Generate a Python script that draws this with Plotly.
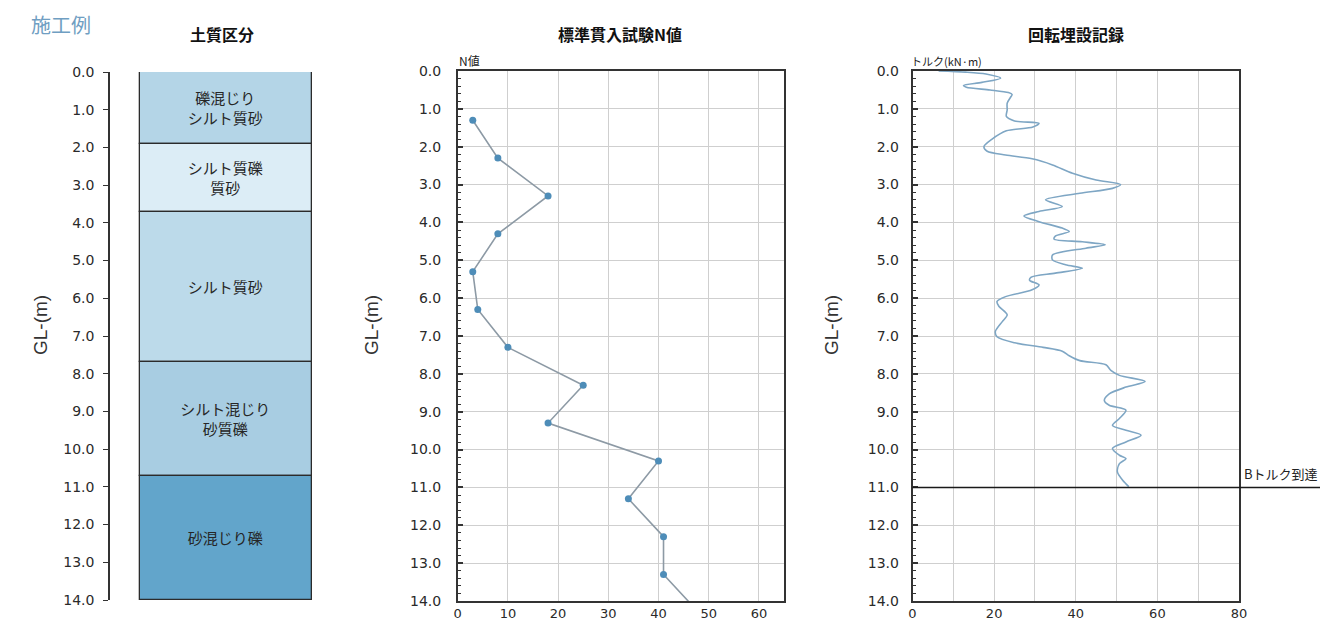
import plotly.graph_objects as go

W, H = 1337, 621
OFF = 8                      # page body margin
FW, FH = W - OFF, H - OFF    # figure size

# ---------------- data ----------------
soil_names = ["礫混じり<br>シルト質砂", "シルト質礫<br>質砂", "シルト質砂", "シルト混じり<br>砂質礫", "砂混じり礫"]
soil_top = [0.0, 1.9, 3.7, 7.7, 10.7]
soil_bottom = [1.9, 3.7, 7.7, 10.7, 14.0]
soil_colors = ["#b4d5e7", "#dcedf6", "#bcdaea", "#a8cde2", "#62a5cb"]

n_depth = [1.3, 2.3, 3.3, 4.3, 5.3, 6.3, 7.3, 8.3, 9.3, 10.3, 11.3, 12.3, 13.3, 14.3]
n_value = [3, 8, 18, 8, 3, 4, 10, 25, 18, 40, 34, 41, 41, 48]

torque_depth = [0.00, 0.03, 0.08, 0.19, 0.30, 0.38, 0.43, 0.50, 0.57, 0.62, 0.70, 0.85,
                1.03, 1.20, 1.32, 1.38, 1.48, 1.58, 1.80, 2.00, 2.12, 2.22, 2.32, 2.48,
                2.70, 2.88, 3.00, 3.10, 3.23, 3.40, 3.58, 3.71, 3.83, 3.98, 4.15, 4.24,
                4.36, 4.44, 4.51, 4.59, 4.68, 4.86, 4.99, 5.12, 5.21, 5.34, 5.45, 5.53,
                5.65, 5.78, 5.96, 6.09, 6.22, 6.44, 6.62, 6.88, 7.02, 7.18, 7.30, 7.40,
                7.52, 7.65, 7.76, 7.91, 8.04, 8.20, 8.35, 8.53, 8.70, 8.83, 8.96, 9.18,
                9.36, 9.49, 9.62, 9.80, 9.97, 10.15, 10.24, 10.37, 10.59, 10.81, 10.98]
torque_value = [6.4, 13, 18, 21.6, 17, 12.5, 13.2, 19, 23.5, 24.4, 24.0, 23.2,
                23.2, 23.0, 25, 31, 29.5, 23, 19.5, 17.5, 18.3, 22.8, 29.3, 34.3,
                39.2, 45, 51, 49, 41, 32.6, 36.7, 31, 27.3, 31, 36.7, 38.4,
                35, 34.7, 41.6, 47.2, 42.5, 34.3, 34.3, 37.5, 41.6, 35, 29, 28.7,
                31, 29.3, 22.8, 20.7, 21.2, 23.2, 22, 20.3, 20.7, 25, 32, 36.7,
                38.4, 41, 47.4, 48.6, 50.7, 57, 52.3, 48.2, 47, 48.2, 52.3, 50.7,
                49, 52.3, 56, 52.3, 49, 50.7, 52.3, 50.7, 50.2, 51.5, 53]

depth_ticks = list(range(0, 15))
depth_labels = [f"{d:.1f}" for d in depth_ticks]
n_ticks = [0, 10, 20, 30, 40, 50, 60]
torque_ticks = [0, 10, 20, 30, 40, 50, 60, 70, 80]
torque_labels = ["0", "", "20", "", "40", "", "60", "", "80"]
b_torque_depth = 11.0

# ---------------- helpers (page pixel -> paper) ----------------
def px(x):
    return (x - OFF) / FW

def py(y):
    return 1 - (y - OFF) / FH

def xd(a, b):
    return [px(a), px(b)]

def yd(top, bottom):
    return [py(bottom), py(top)]

TICKFONT = dict(family="DejaVu Sans", size=14, color="#2a2a2a")
XTICKFONT = dict(family="DejaVu Sans", size=13, color="#2a2a2a")
CJK = "Noto Sans CJK JP"
GRID = "#cfcfcf"
AX = "#333333"

fig = go.Figure()

# left: soil column
fig.add_trace(go.Bar(
    x=[0] * len(soil_names),
    y=[b - t for t, b in zip(soil_top, soil_bottom)],
    base=soil_top,
    width=1.0,
    marker=dict(color=soil_colors, line=dict(color="#2b2b2b", width=1.3)),
    text=soil_names,
    textposition="inside",
    insidetextanchor="middle",
    textfont=dict(family=CJK, size=15, color="#262626"),
    xaxis="x", yaxis="y",
    hoverinfo="skip",
    showlegend=False,
))

# middle: N values
fig.add_trace(go.Scatter(
    x=n_value, y=n_depth, mode="lines+markers",
    line=dict(color="#8d9aa5", width=1.6),
    marker=dict(color="#4e8db8", size=7),
    xaxis="x2", yaxis="y2", showlegend=False, cliponaxis=True,
))

# right: torque
fig.add_trace(go.Scatter(
    x=torque_value, y=torque_depth, mode="lines",
    line=dict(color="#7ea6c4", width=1.6, shape="spline", smoothing=0.8),
    xaxis="x3", yaxis="y3", showlegend=False,
))

ydom = yd(71, 601)

yaxis_common = dict(
    range=[14, 0], tickvals=depth_ticks, ticktext=depth_labels,
    tickfont=TICKFONT, showline=True, linecolor=AX, linewidth=1.5,
    zeroline=False, automargin=False,
)

fig.update_layout(
    width=FW, height=FH,
    margin=dict(l=0, r=0, t=0, b=0, autoexpand=False),
    paper_bgcolor="white", plot_bgcolor="white",
    bargap=0,
    xaxis=dict(domain=xd(110, 330), range=[-0.674, 0.605], visible=False,
               fixedrange=True, automargin=False),
    yaxis=dict(domain=yd(72, 600), anchor="x", showgrid=False,
               ticks="outside", ticklen=5, tickwidth=1.3, tickcolor=AX,
               ticklabelstandoff=6, **yaxis_common),
    xaxis2=dict(domain=xd(457.7, 784), range=[0, 65], anchor="y2",
                tickvals=n_ticks, tickfont=XTICKFONT, showgrid=True, gridcolor=GRID,
                showline=True, mirror=True, linecolor=AX, linewidth=1.5,
                ticks="", zeroline=False, ticklabelstandoff=0, automargin=False),
    yaxis2=dict(domain=ydom, anchor="x2", showgrid=True, gridcolor=GRID, mirror=True,
                ticks="inside", ticklen=6, tickwidth=1.5, tickcolor=AX,
                minor=dict(dtick=0.2, ticks="inside", ticklen=4, tickwidth=1.3, tickcolor=AX, showgrid=False),
                ticklabelstandoff=12, **yaxis_common),
    xaxis3=dict(domain=xd(912.5, 1239), range=[0, 80], anchor="y3",
                tickvals=torque_ticks, ticktext=torque_labels, tickfont=XTICKFONT,
                showgrid=True, gridcolor=GRID,
                showline=True, mirror=True, linecolor=AX, linewidth=1.5,
                ticks="", zeroline=False, ticklabelstandoff=0, automargin=False),
    yaxis3=dict(domain=ydom, anchor="x3", showgrid=True, gridcolor=GRID, mirror=True,
                ticks="inside", ticklen=6, tickwidth=1.5, tickcolor=AX,
                minor=dict(dtick=0.2, ticks="inside", ticklen=4, tickwidth=1.3, tickcolor=AX, showgrid=False),
                ticklabelstandoff=9, **yaxis_common),
)

# B torque line
fig.add_shape(type="line", xref="paper", yref="y3",
              x0=px(912.5), x1=px(1320), y0=b_torque_depth, y1=b_torque_depth,
              line=dict(color="#1a1a1a", width=1.5))

ann = []
# titles
ann.append(dict(text="施工例", x=px(29), y=py(24), xanchor="left", yanchor="middle",
                font=dict(family=CJK, size=20, color="#6f9ec2")))
for t, cx in [("土質区分", 222), ("標準貫入試験N値", 620), ("回転埋設記録", 1076)]:
    ann.append(dict(text=t, x=px(cx), y=py(34), xanchor="center", yanchor="middle",
                    font=dict(family=CJK, size=16, color="#111111", weight="bold")))
# axis titles
for cx in [40, 371, 831]:
    ann.append(dict(text="GL-(m)", x=px(cx), y=py(325), xanchor="center", yanchor="middle",
                    textangle=-90, font=dict(family="Liberation Sans", size=19, color="#333333")))
ann.append(dict(text="N値", x=px(457), y=py(60), xanchor="left", yanchor="middle",
                font=dict(family=CJK, size=12, color="#222222")))
ann.append(dict(text="トルク(kN·m)", x=px(909), y=py(61), xanchor="left", yanchor="middle",
                font=dict(family=CJK, size=11, color="#222222")))
ann.append(dict(text="Bトルク到達", x=px(1320), y=b_torque_depth, xref="paper", yref="y3",
                xanchor="right", yanchor="bottom", yshift=2,
                font=dict(family=CJK, size=13, color="#222222")))
for a in ann:
    a.setdefault("xref", "paper")
    a.setdefault("yref", "paper")
    a["showarrow"] = False
fig.update_layout(annotations=ann)

fig.write_html("out.html")
